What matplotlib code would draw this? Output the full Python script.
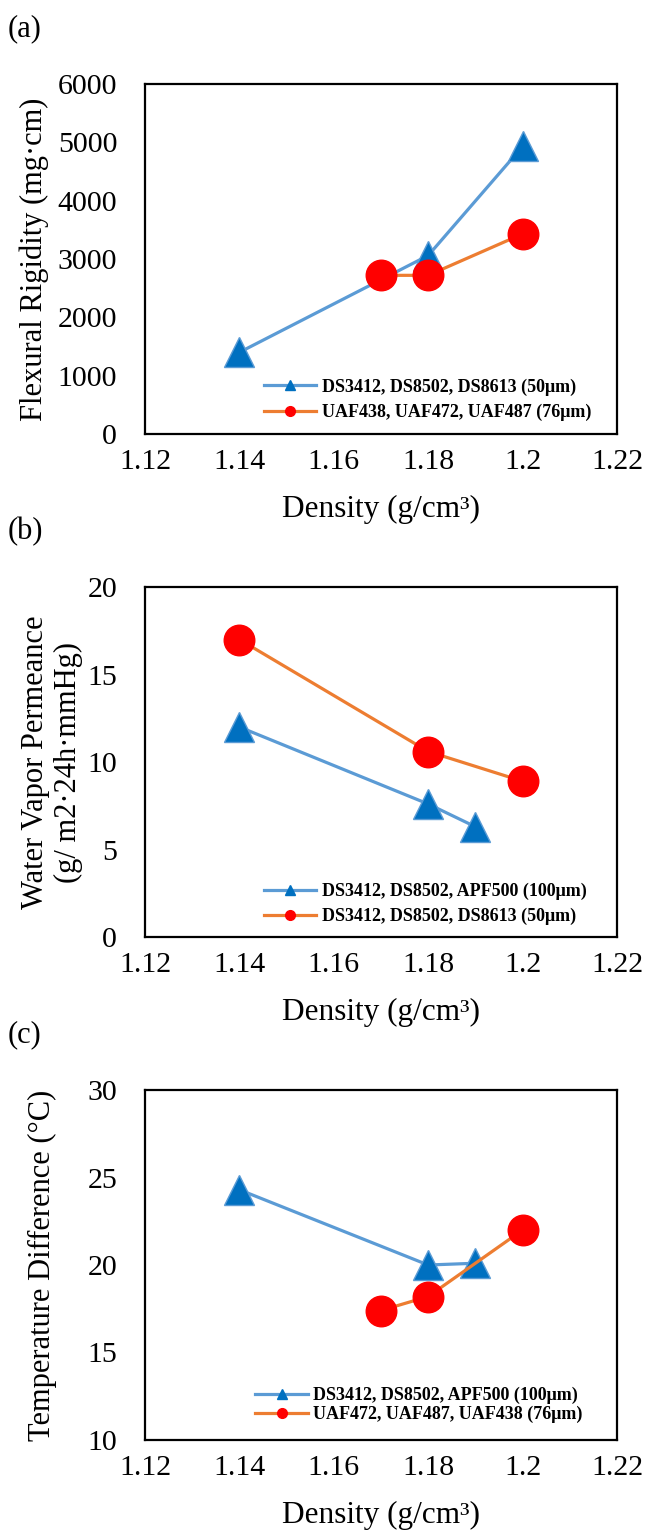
import matplotlib
matplotlib.use("Agg")
import matplotlib.pyplot as plt
from matplotlib.lines import Line2D

plt.rcParams['font.family'] = ['Liberation Serif', 'DejaVu Serif']

# ---------------- data ----------------
x_ticks = [1.12, 1.14, 1.16, 1.18, 1.20, 1.22]
x_tick_labels = ["1.12", "1.14", "1.16", "1.18", "1.2", "1.22"]

a_blue_x = [1.14, 1.18, 1.20]
a_blue_y = [1400, 3060, 4930]
a_red_x = [1.17, 1.18, 1.20]
a_red_y = [2720, 2720, 3430]
a_yticks = [0, 1000, 2000, 3000, 4000, 5000, 6000]
a_labels = ["DS3412, DS8502, DS8613 (50μm)", "UAF438, UAF472, UAF487 (76μm)"]

b_blue_x = [1.14, 1.18, 1.19]
b_blue_y = [12.0, 7.6, 6.3]
b_red_x = [1.14, 1.18, 1.20]
b_red_y = [17.0, 10.6, 8.9]
b_yticks = [0, 5, 10, 15, 20]
b_labels = ["DS3412, DS8502, APF500 (100μm)", "DS3412, DS8502, DS8613 (50μm)"]

c_blue_x = [1.14, 1.18, 1.19]
c_blue_y = [24.3, 20.0, 20.1]
c_red_x = [1.17, 1.18, 1.20]
c_red_y = [17.4, 18.2, 22.0]
c_yticks = [10, 15, 20, 25, 30]
c_labels = ["DS3412, DS8502, APF500 (100μm)", "UAF472, UAF487, UAF438 (76μm)"]

ylabels = ["Flexural Rigidity (mg·cm)",
           "Water Vapor Permeance\n(g/ m2·24h·mmHg)",
           "Temperature Difference (°C)"]
xlabel = "Density (g/cm³)"
panel_tags = ["(a)", "(b)", "(c)"]

# ---------------- style ----------------
BLUE_LINE = '#5B9BD5'
BLUE_MARK = '#0070C0'
ORANGE_LINE = '#ED7D31'
RED_MARK = '#FF0000'

W, H = 645, 1530
fig = plt.figure(figsize=(W / 100, H / 100), dpi=100)

box_left, box_right = 145, 617
box_tops = [84, 587, 1090]
box_h = 350

panels = [
    (a_blue_x, a_blue_y, a_red_x, a_red_y, a_yticks, a_labels, (0.252, 0.098), 0.45, -0.235),
    (b_blue_x, b_blue_y, b_red_x, b_red_y, b_yticks, b_labels, (0.252, 0.094), 0.40, -0.197),
    (c_blue_x, c_blue_y, c_red_x, c_red_y, c_yticks, c_labels, (0.234, 0.100), 0.10, -0.218),
]

for i, (bx, by, rx, ry, yt, labs, lpos, lspace, ylx) in enumerate(panels):
    top = box_tops[i]
    ax = fig.add_axes([box_left / W, 1 - (top + box_h) / H,
                       (box_right - box_left) / W, box_h / H])
    ax.plot(bx, by, color=BLUE_LINE, lw=2.3, marker='^', ms=22,
            mfc=BLUE_MARK, mec=BLUE_LINE, mew=1.0, zorder=3)
    ax.plot(rx, ry, color=ORANGE_LINE, lw=2.3, marker='o', ms=22,
            mfc=RED_MARK, mec=RED_MARK, zorder=4)
    ax.set_xlim(x_ticks[0], x_ticks[-1])
    ax.set_ylim(yt[0], yt[-1])
    ax.set_xticks(x_ticks)
    ax.set_xticklabels(x_tick_labels)
    ax.set_yticks(yt)
    ax.tick_params(axis='both', length=0, labelsize=21.5, colors='#000000')
    ax.tick_params(axis='y', pad=20)
    ax.tick_params(axis='x', pad=11)
    for s in ax.spines.values():
        s.set_linewidth(1.6)
        s.set_color('black')
    ax.set_xlabel(xlabel, fontsize=22.5)
    ax.xaxis.set_label_coords(0.5, -0.175)
    ax.set_ylabel(ylabels[i], fontsize=22, va='center', ha='center',
                  linespacing=1.15)
    ax.yaxis.set_label_coords(ylx, 0.5)

    handles = [
        Line2D([], [], color=BLUE_LINE, lw=2.3, marker='^', ms=7,
               mfc=BLUE_MARK, mec=BLUE_MARK),
        Line2D([], [], color=ORANGE_LINE, lw=2.3, marker='o', ms=7,
               mfc=RED_MARK, mec=RED_MARK),
    ]
    ax.legend(handles, labs, loc='center left', bbox_to_anchor=lpos,
              frameon=False, borderpad=0, borderaxespad=0,
              handlelength=2.9, handletextpad=0.3, labelspacing=lspace,
              prop={'family': 'Liberation Serif', 'weight': 'bold', 'size': 13})

    fig.text(8 / W, 1 - (top - 55) / H, panel_tags[i], fontsize=22,
             ha='left', va='center')

fig.savefig("out.png", dpi=100)
